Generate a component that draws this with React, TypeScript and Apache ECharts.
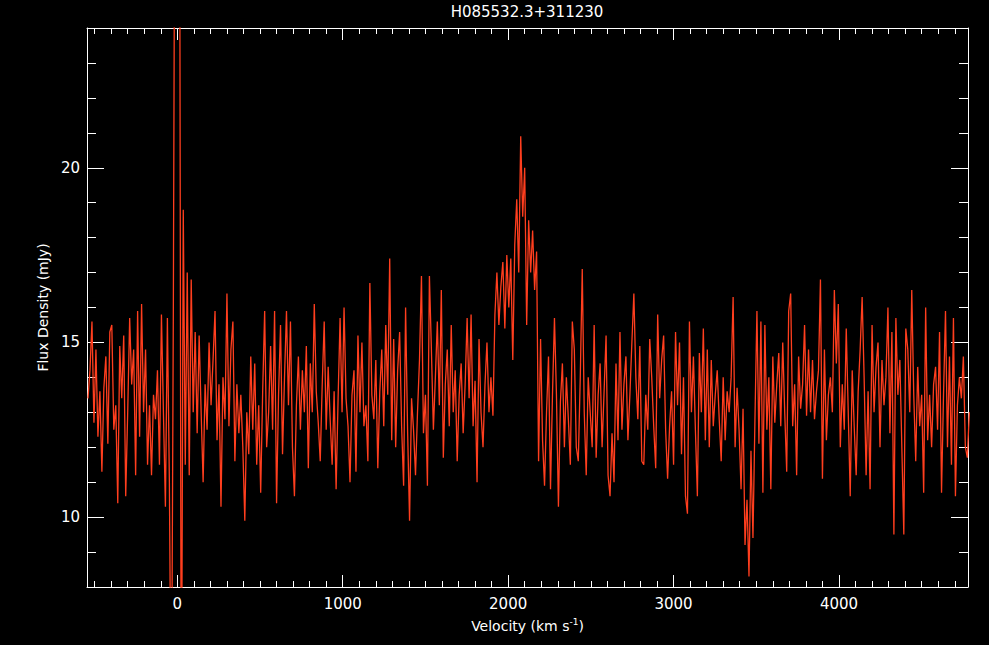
import React, { useEffect, useRef } from "react";
import * as echarts from "echarts";

// Spectrum: velocity grid (km/s) and flux density (mJy)
const V_START = -540;
const V_STEP = 12;
const flux = [
  13.4, 14.2, 15.6, 12.7, 14.8, 12.3, 13.6, 11.3, 13.7, 14.6,
  12.1, 15.3, 15.5, 12.5, 13.2, 10.4, 14.9, 13.4, 15.2, 10.6,
  13.0, 15.7, 13.8, 14.8, 11.2, 15.9, 12.3, 16.1, 13.0, 14.8,
  11.5, 13.2, 11.2, 13.5, 12.8, 14.2, 11.5, 15.8, 13.0, 10.3,
  15.7, 11.0, 3.0, 16.0, 34.0, 34.0, 34.0, 2.0, 18.8, 11.5,
  17.0, 11.2, 16.8, 13.0, 15.3, 12.4, 15.2, 13.0, 11.0, 13.8,
  12.5, 15.0, 13.2, 14.5, 15.9, 12.2, 13.8, 10.3, 14.0, 12.8,
  16.4, 12.6, 14.8, 15.6, 11.6, 13.8, 12.4, 13.5, 12.0, 9.9,
  13.0, 11.8, 14.6, 12.5, 14.4, 11.5, 13.2, 10.7, 13.6, 15.9,
  12.0, 13.0, 14.9, 12.5, 15.9, 10.4, 13.5, 15.5, 11.8, 14.0,
  15.9, 13.2, 15.6, 12.0, 10.6, 13.2, 14.6, 12.5, 14.2, 13.0,
  14.9, 11.4, 14.4, 13.0, 16.1, 13.6, 12.7, 11.6, 13.8, 15.6,
  12.5, 14.3, 12.8, 11.5, 13.6, 10.8, 13.4, 15.7, 13.0, 16.0,
  13.4, 12.6, 11.0, 13.5, 14.2, 11.3, 15.2, 13.0, 15.0, 12.6,
  13.2, 11.6, 16.7, 13.5, 12.8, 14.5, 11.4, 13.6, 14.8, 12.6,
  15.5, 13.5, 17.4, 12.2, 15.1, 12.0, 14.2, 15.3, 12.6, 10.9,
  16.0, 12.5, 9.9, 13.4, 12.5, 11.2, 13.0, 14.5, 16.9, 12.4,
  13.5, 10.9, 16.9, 14.8, 12.5, 14.0, 15.6, 13.2, 16.5, 11.7,
  13.8, 14.8, 12.6, 15.5, 13.0, 14.2, 11.6, 13.5, 14.4, 12.4,
  13.8, 15.7, 13.4, 15.8, 12.6, 13.9, 11.0, 15.1, 13.0, 12.0,
  13.8, 15.0, 13.0, 14.0, 12.9, 15.8, 17.0, 15.5, 16.6, 17.3,
  15.4, 17.5, 16.0, 17.4, 14.5, 17.8, 19.1, 17.0, 20.9, 18.6,
  20.0, 15.5, 18.5, 17.0, 18.2, 16.5, 17.6, 11.6, 15.1, 12.2,
  10.9, 13.0, 14.6, 10.8, 13.5, 15.7, 13.5, 10.3, 13.3, 14.4,
  12.0, 14.0, 12.8, 11.5, 15.6, 14.8, 12.0, 11.6, 14.0, 17.1,
  13.0, 11.2, 14.0, 13.0, 12.0, 15.5, 11.7, 13.5, 14.4, 12.0,
  13.6, 15.2, 11.2, 10.6, 12.4, 11.0, 14.4, 12.2, 15.3, 12.5,
  13.8, 14.6, 12.2, 13.5, 15.0, 16.4, 14.0, 12.8, 14.9, 11.6,
  11.5, 13.5, 12.5, 15.1, 14.0, 12.6, 11.4, 15.8, 13.4, 14.5,
  15.2, 12.5, 11.1, 12.6, 13.6, 11.5, 15.3, 13.2, 15.0, 11.8,
  14.0, 10.6, 10.1, 15.6, 13.0, 14.6, 12.5, 10.6, 14.7, 13.0,
  15.4, 12.2, 14.8, 12.0, 14.5, 12.6, 13.5, 14.2, 12.8, 11.6,
  14.0, 12.2, 13.6, 13.0, 14.0, 16.3, 12.0, 13.7, 12.5, 10.8,
  13.1, 9.2, 10.5, 8.3, 11.9, 9.4, 12.8, 15.9, 12.1, 15.6,
  10.7, 15.5, 12.5, 14.0, 10.8, 14.6, 12.7, 13.8, 14.7, 12.6,
  15.0, 13.0, 11.3, 15.9, 16.4, 12.6, 13.8, 11.2, 14.6, 13.1,
  13.8, 15.5, 12.9, 14.8, 13.0, 14.5, 12.8, 13.6, 14.2, 16.8,
  11.1, 14.8, 12.2, 13.5, 14.0, 13.0, 16.5, 14.4, 16.1, 12.0,
  13.8, 12.5, 15.4, 13.0, 10.6, 14.2, 12.6, 11.2, 13.6, 14.8,
  16.3, 14.0, 11.2, 13.6, 10.8, 15.5, 13.0, 14.3, 15.0, 12.0,
  14.5, 13.2, 14.0, 16.0, 12.4, 15.3, 9.5, 15.7, 13.5, 14.5,
  12.0, 9.5, 15.4, 14.8, 13.0, 16.5, 13.5, 11.6, 14.3, 12.6,
  13.5, 10.7, 16.0, 12.2, 13.5, 12.0, 13.8, 14.3, 12.5, 15.3,
  10.7, 13.5, 15.9, 12.0, 14.6, 11.5, 15.7, 10.6, 13.2, 14.0,
  13.4, 14.6, 12.0, 11.7, 13.0,
];

const X_MIN = -546;
const X_MAX = 4780;
const Y_MIN = 8;
const Y_MAX = 24;
const xMajorTicks = [0, 1000, 2000, 3000, 4000];
const yMajorTicks = [10, 15, 20];
const xMinorTicks: number[] = [];
for (let v = -500; v <= 4700; v += 100) xMinorTicks.push(v);
const yMinorTicks: number[] = [];
for (let v = 9; v <= 23; v++) yMinorTicks.push(v);

const TITLE = "H085532.3+311230";
const X_NAME = "Velocity (km s{sup|-1})";
const Y_NAME = "Flux Density (mJy)";

const FONT = "DejaVu Sans";
const WHITE = "#ffffff";
const RED = "#ff3e1e";

export default function App() {
  const ref = useRef<HTMLDivElement>(null);
  useEffect(() => {
    if (!ref.current) return;
    const chart = echarts.init(ref.current, null, { renderer: "svg" });
    const data = flux.map((f, i) => [V_START + i * V_STEP, f]);

    const baseX = (position: string, ticks: number[], len: number, showLine: boolean, extra: any = {}) => ({
      type: "value",
      position,
      min: X_MIN,
      max: X_MAX,
      axisLine: { show: showLine, onZero: false, lineStyle: { color: WHITE, width: 1 } },
      axisTick: { show: true, inside: true, length: len, customValues: ticks, lineStyle: { color: WHITE, width: 1 } },
      axisLabel: { show: false },
      splitLine: { show: false },
      ...extra,
    });
    const baseY = (position: string, ticks: number[], len: number, showLine: boolean, extra: any = {}) => ({
      type: "value",
      position,
      min: Y_MIN,
      max: Y_MAX,
      axisLine: { show: showLine, onZero: false, lineStyle: { color: WHITE, width: 1 } },
      axisTick: { show: true, inside: true, length: len, customValues: ticks, lineStyle: { color: WHITE, width: 1 } },
      axisLabel: { show: false },
      splitLine: { show: false },
      ...extra,
    });

    chart.setOption({
      animation: false,
      backgroundColor: "#000000",
      grid: { left: 87, right: 21, top: 28, bottom: 58, containLabel: false },
      graphic: [
        {
          type: "text",
          x: 527,
          y: 12,
          style: {
            text: TITLE,
            fill: WHITE,
            font: `15px "${FONT}"`,
            textAlign: "center",
            textVerticalAlign: "middle",
          },
        },
      ],
      xAxis: [
        baseX("bottom", xMajorTicks, 12, true, {
          axisLabel: {
            show: true,
            customValues: xMajorTicks,
            formatter: (v: number) => String(v),
            color: WHITE,
            fontFamily: FONT,
            fontSize: 15,
            margin: 9,
          },
          name: X_NAME,
          nameLocation: "middle",
          nameGap: 30,
          nameTextStyle: {
            color: WHITE,
            fontFamily: FONT,
            fontSize: 14,
            rich: { sup: { color: WHITE, fontFamily: FONT, fontSize: 9, padding: [0, 0, 8, 0] } },
          },
        }),
        baseX("bottom", xMinorTicks, 6, false),
        baseX("top", xMajorTicks, 12, true),
        baseX("top", xMinorTicks, 6, false),
      ],
      yAxis: [
        baseY("left", yMajorTicks, 17, true, {
          axisLabel: {
            show: true,
            customValues: yMajorTicks,
            formatter: (v: number) => String(v),
            color: WHITE,
            fontFamily: FONT,
            fontSize: 15,
            margin: 7,
          },
          name: Y_NAME,
          nameLocation: "middle",
          nameGap: 34,
          nameTextStyle: { color: WHITE, fontFamily: FONT, fontSize: 14 },
        }),
        baseY("left", yMinorTicks, 9, false),
        baseY("right", yMajorTicks, 17, true),
        baseY("right", yMinorTicks, 9, false),
      ],
      series: [
        {
          type: "line",
          xAxisIndex: 0,
          yAxisIndex: 0,
          data,
          showSymbol: false,
          symbol: "none",
          clip: true,
          lineStyle: { color: RED, width: 1.3 },
          itemStyle: { color: RED },
        },
      ],
    });
    return () => chart.dispose();
  }, []);
  return (
    <div
      ref={ref}
      style={{ position: "absolute", left: 0, top: 0, width: 989, height: 645, background: "#000" }}
    />
  );
}
